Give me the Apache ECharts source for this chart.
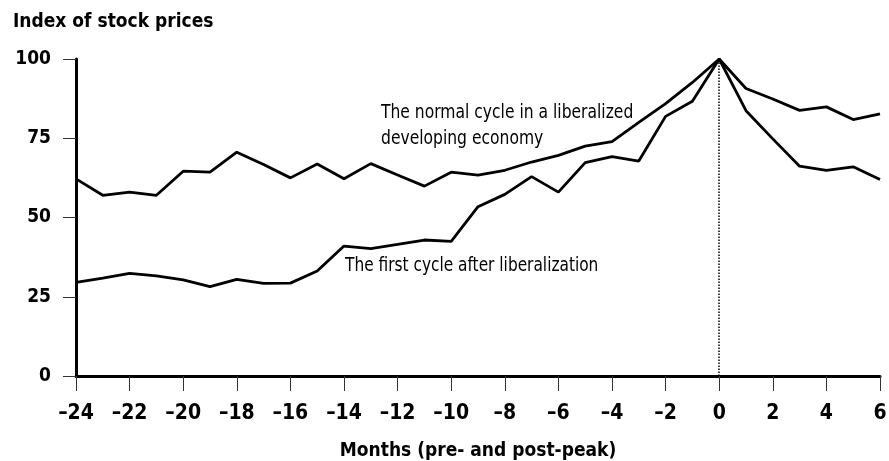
<!DOCTYPE html>
<html>
<head>
<meta charset="utf-8">
<script src="https://cdn.jsdelivr.net/npm/echarts@6/dist/echarts.min.js"></script>
<style>
  html, body { margin: 0; padding: 0; background: #fff; }
  #chart { width: 889px; height: 461px; }
</style>
</head>
<body>
<div id="chart"></div>
<script>
// months relative to the peak
const months = [-24, -23, -22, -21, -20, -19, -18, -17, -16, -15, -14, -13, -12, -11, -10, -9, -8, -7, -6, -5, -4, -3, -2, -1, 0, 1, 2, 3, 4, 5, 6]
// normal cycle in a liberalized developing economy
const normalCycle = [62.2, 57.0, 58.0, 57.0, 64.6, 64.3, 70.6, 66.7, 62.5, 66.9, 62.2, 67.0, 63.4, 59.9, 64.3, 63.4, 64.9, 67.5, 69.6, 72.5, 73.9, 80.0, 85.9, 92.6, 100, 90.7, 87.4, 83.8, 84.9, 80.9, 82.7]
// first cycle after liberalization
const firstCycle = [29.5, 30.9, 32.4, 31.6, 30.3, 28.2, 30.5, 29.2, 29.3, 33.1, 41.0, 40.2, 41.5, 42.9, 42.5, 53.4, 57.3, 62.9, 58.0, 67.3, 69.2, 67.8, 81.9, 86.7, 100, 83.7, 74.8, 66.2, 64.9, 66.0, 62.0]
const yTicks = [0, 25, 50, 75, 100]

const boldFont = '"DejaVu Sans Condensed", "DejaVu Sans", sans-serif'
const textFont = '"Liberation Sans Narrow", "DejaVu Sans Condensed", sans-serif'

const toPairs = (vals) => months.map((m, i) => [m, vals[i]])

const myChart = echarts.init(document.getElementById('chart'))

let option = {
    animation: false,
    backgroundColor: '#fff',
    title: {
        text: 'Index of stock prices',
        left: 8,
        top: 8,
        textStyle: { fontFamily: boldFont, fontWeight: 'bold', fontSize: 19, color: '#000' }
    },
    grid: { left: 76, right: 9, top: 59, bottom: 85, outerBoundsMode: 'none', containLabel: false },
    xAxis: {
        type: 'value',
        min: -24,
        max: 6,
        interval: 2,
        name: 'Months (pre- and post-peak)',
        nameLocation: 'middle',
        nameGap: 66,
        nameTextStyle: { fontFamily: boldFont, fontWeight: 'bold', fontSize: 19, color: '#000' },
        axisLine: { onZero: false, lineStyle: { color: '#000', width: 3 } },
        axisTick: { show: true, inside: false, length: 15, lineStyle: { color: '#333', width: 1 } },
        axisLabel: {
            margin: 27,
            fontFamily: boldFont,
            fontWeight: 'bold',
            fontSize: 21,
            color: '#000',
            formatter: (v) => v < 0 ? '\u2013' + Math.abs(v) : '' + v
        },
        splitLine: { show: false }
    },
    yAxis: {
        type: 'value',
        min: yTicks[0],
        max: yTicks[yTicks.length - 1],
        interval: 25,
        axisLine: { show: true, onZero: false, lineStyle: { color: '#000', width: 3 } },
        axisTick: { show: true, length: 13, lineStyle: { color: '#333', width: 1 } },
        axisLabel: {
            margin: 25,
            fontFamily: boldFont,
            fontWeight: 'bold',
            fontSize: 19,
            color: '#000'
        },
        splitLine: { show: false }
    },
    graphic: [
        {
            type: 'text',
            x: 381,
            y: 100,
            scaleX: 0.91,
            style: {
                text: 'The normal cycle in a liberalized\ndeveloping economy',
                fontFamily: textFont,
                fontSize: 19,
                lineHeight: 26,
                fill: '#000'
            }
        },
        {
            type: 'text',
            x: 345,
            y: 257,
            scaleX: 0.9,
            style: {
                text: 'The first cycle after liberalization',
                fontFamily: textFont,
                fontSize: 19,
                fill: '#000'
            }
        }
    ],
    series: [
        {
            name: 'normal',
            type: 'line',
            data: toPairs(normalCycle),
            symbol: 'none',
            lineStyle: { color: '#000', width: 2.8 },
            z: 3,
            markLine: {
                silent: true,
                symbol: 'none',
                label: { show: false },
                lineStyle: { color: '#000', type: 'dotted', width: 1.5 },
                data: [{ xAxis: 0 }]
            }
        },
        {
            name: 'first',
            type: 'line',
            data: toPairs(firstCycle),
            symbol: 'none',
            lineStyle: { color: '#000', width: 2.8 },
            z: 3
        }
    ]
}

option && myChart.setOption(option)
</script>
</body>
</html>
